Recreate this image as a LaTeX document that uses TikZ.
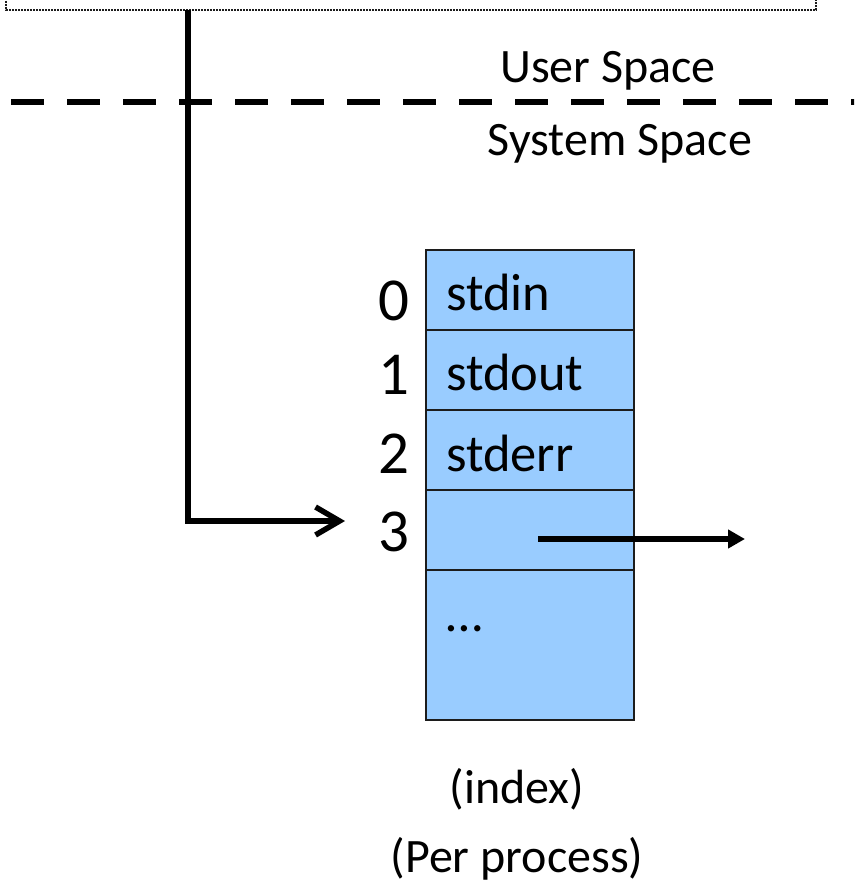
\documentclass[tikz,border=0pt]{standalone}
\usepackage{fontspec}
\setmainfont{Carlito}
\usetikzlibrary{arrows.meta}
\definecolor{cellblue}{HTML}{99CCFF}
\definecolor{cellline}{HTML}{1C1C1C}
\begin{document}
\begin{tikzpicture}[x=1pt,y=-1pt,
  cell/.style={draw=cellline, line width=2.6pt, fill=cellblue, minimum width=208pt,
    minimum height=80pt, inner sep=0pt, outer sep=0pt, anchor=north west},
  celltext/.style={font=\fontsize{52.5}{54}\selectfont, anchor=base west, inner sep=0pt},
  idx/.style={font=\fontsize{61}{63}\selectfont, anchor=base, inner sep=0pt},
  lbl/.style={font=\fontsize{48}{50}\selectfont, anchor=base, inner sep=0pt},
  link/.style={line width=5.5pt}]
\useasboundingbox (0,0) rectangle (854,888);
\clip (0,0) rectangle (854,888);

% process box (edge only)
\draw[line width=1.6pt, dash pattern=on 1.6pt off 1.4pt, cellline]
  (6,-5) -- (6,10) -- (816,10) -- (816,-5);

% user / system boundary
\coordinate (bl) at (11,102);
\coordinate (br) at (860,102);
\draw[line width=6pt, dash pattern=on 33pt off 23pt] (bl) -- (br);
\node[lbl] (user) at (608,83) {User Space};
\node[lbl] (sys) at (620,155) {System Space};

% file descriptor table
\node[cell] (r0) at (426,250) {};
\node[cell] (r1) at (426,330) {};
\node[cell] (r2) at (426,410) {};
\node[cell] (r3) at (426,490) {};
\node[cell, minimum height=150pt] (rmore) at (426,570) {};

\node[celltext] (t0) at (446,310) {stdin};
\node[celltext] (t1) at (446,390) {stdout};
\node[celltext] (t2) at (446,471) {stderr};
\node[celltext] (tmore) at (446,631) {…};

\node[idx] (d0) at (394,320) {0};
\node[idx] (d1) at (394,394) {1};
\node[idx] (d2) at (394,473) {2};
\node[idx] (d3) at (394,551) {3};

\node[lbl] (index) at (517,803) {(index)};
\node[lbl] (perproc) at (517,872) {(Per process)};

% descriptor returned to user space
\coordinate (src) at (188,10);
\coordinate (in3) at (345,521);
\draw[link, -{Straight Barb[length=24pt,width=28pt]}] (src) |- (in3);

% entry 3 points onward
\coordinate (out0) at (538,539);
\coordinate (out1) at (745,539);
\draw[link, -{Triangle[length=17pt,width=18pt]}] (out0) -- (out1);
\end{tikzpicture}
\end{document}
